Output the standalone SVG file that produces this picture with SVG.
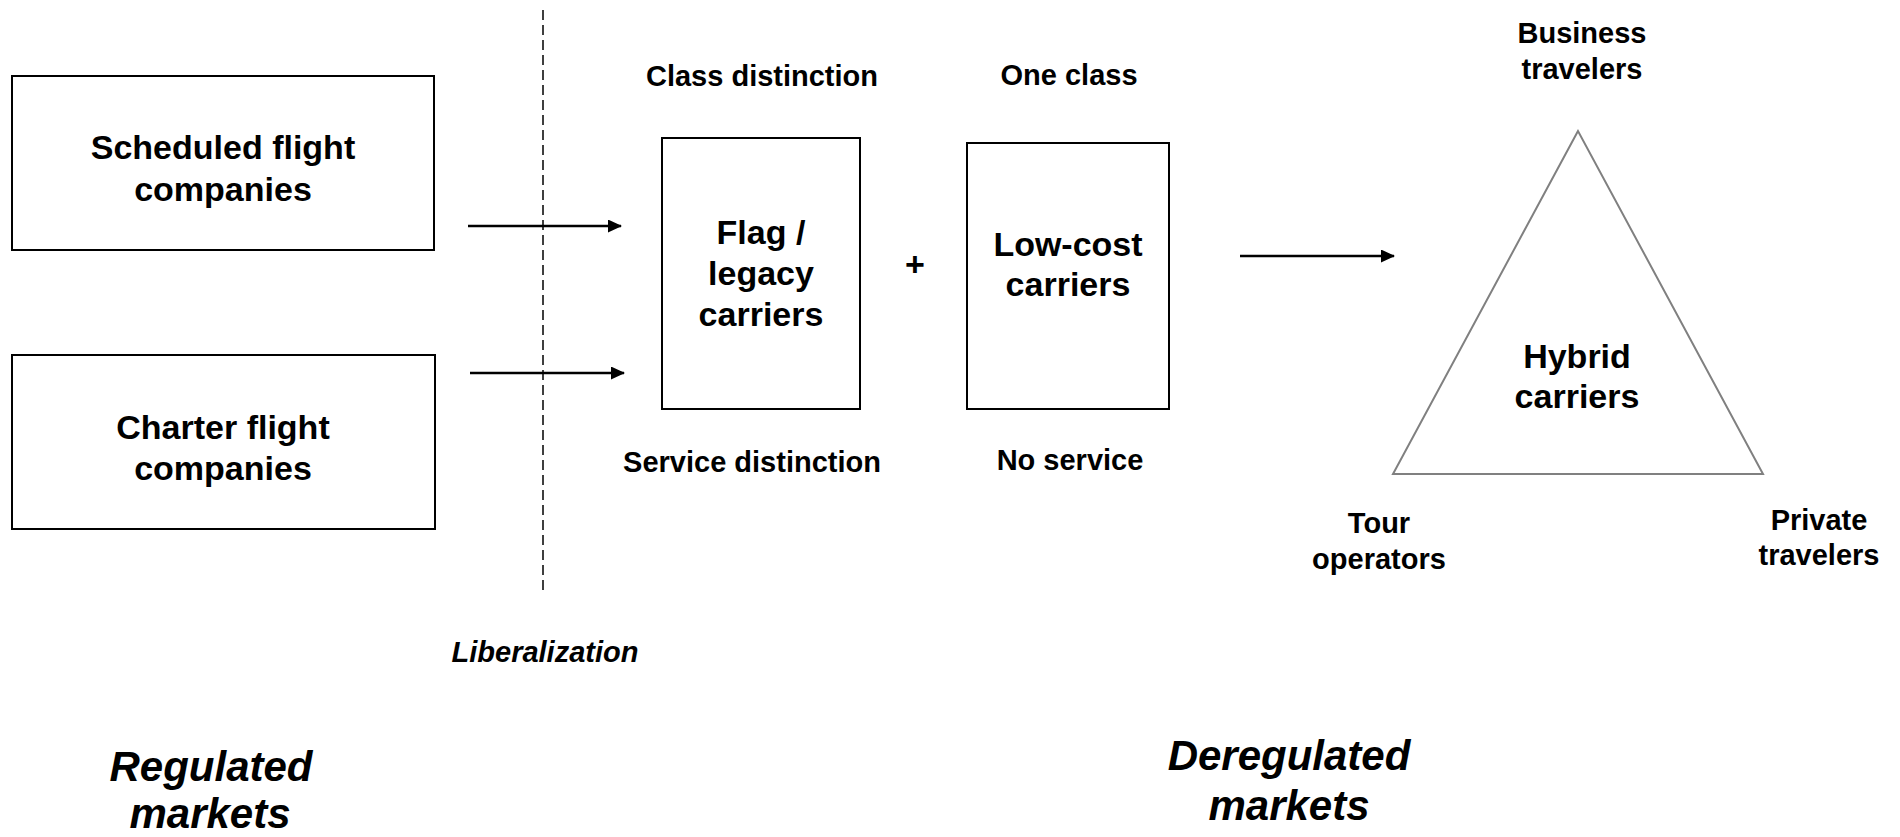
<svg xmlns="http://www.w3.org/2000/svg" width="1900" height="837" viewBox="0 0 1900 837">
<defs>
<style>
text{font-family:"Liberation Sans",Arial,sans-serif;font-weight:bold;fill:#000;text-anchor:middle}
.big{font-size:34px}
.sm{font-size:29px}
.it{font-style:italic}
.xl{font-size:42px;font-style:italic}
.box{fill:#fff;stroke:#000;stroke-width:2}
.conn{stroke:#000;stroke-width:2.5;fill:none}
</style>
<marker id="ah" markerWidth="14" markerHeight="13" refX="13" refY="6.5" orient="auto" markerUnits="userSpaceOnUse" viewBox="0 0 14 13">
<path d="M0,0 L14,6.5 L0,13 z" fill="#000"/>
</marker>
</defs>
<rect width="1900" height="837" fill="#fff"/>
<g id="divider">
<line x1="543" y1="10" x2="543" y2="594" stroke="#000" stroke-width="1.5" stroke-dasharray="10,5"/>
</g>
<g id="connectors">
<line class="conn" x1="468" y1="226" x2="621" y2="226" marker-end="url(#ah)"/>
<line class="conn" x1="470" y1="373" x2="624" y2="373" marker-end="url(#ah)"/>
<line class="conn" x1="1240" y1="256" x2="1394" y2="256" marker-end="url(#ah)"/>
</g>
<g id="scheduled">
<rect class="box" x="12" y="76" width="422" height="174"/>
<text class="big" x="223" y="159">Scheduled flight</text>
<text class="big" x="223" y="201">companies</text>
</g>
<g id="charter">
<rect class="box" x="12" y="355" width="423" height="174"/>
<text class="big" x="223" y="439">Charter flight</text>
<text class="big" x="223" y="480">companies</text>
</g>
<g id="flag">
<rect class="box" x="662" y="138" width="198" height="271"/>
<text class="big" x="761" y="244">Flag /</text>
<text class="big" x="761" y="285">legacy</text>
<text class="big" x="761" y="326">carriers</text>
</g>
<g id="plus">
<text class="big" x="915" y="276">+</text>
</g>
<g id="lowcost">
<rect class="box" x="967" y="143" width="202" height="266"/>
<text class="big" x="1068" y="256">Low-cost</text>
<text class="big" x="1068" y="296">carriers</text>
</g>
<g id="hybrid">
<polygon points="1578,131 1393,474 1763,474" fill="#fff" stroke="#808080" stroke-width="2"/>
<text class="big" x="1577" y="368">Hybrid</text>
<text class="big" x="1577" y="408">carriers</text>
</g>
<g id="labels">
<text class="sm" x="762" y="86">Class distinction</text>
<text class="sm" x="1069" y="85">One class</text>
<text class="sm" x="752" y="472">Service distinction</text>
<text class="sm" x="1070" y="470">No service</text>
<text class="sm" x="1582" y="43">Business</text>
<text class="sm" x="1582" y="79">travelers</text>
<text class="sm" x="1379" y="533">Tour</text>
<text class="sm" x="1379" y="569">operators</text>
<text class="sm" x="1819" y="530">Private</text>
<text class="sm" x="1819" y="565">travelers</text>
<text class="sm it" x="545" y="662">Liberalization</text>
<text class="xl" x="211" y="781">Regulated</text>
<text class="xl" x="210" y="828">markets</text>
<text class="xl" x="1289" y="770">Deregulated</text>
<text class="xl" x="1289" y="820">markets</text>
</g>
</svg>
